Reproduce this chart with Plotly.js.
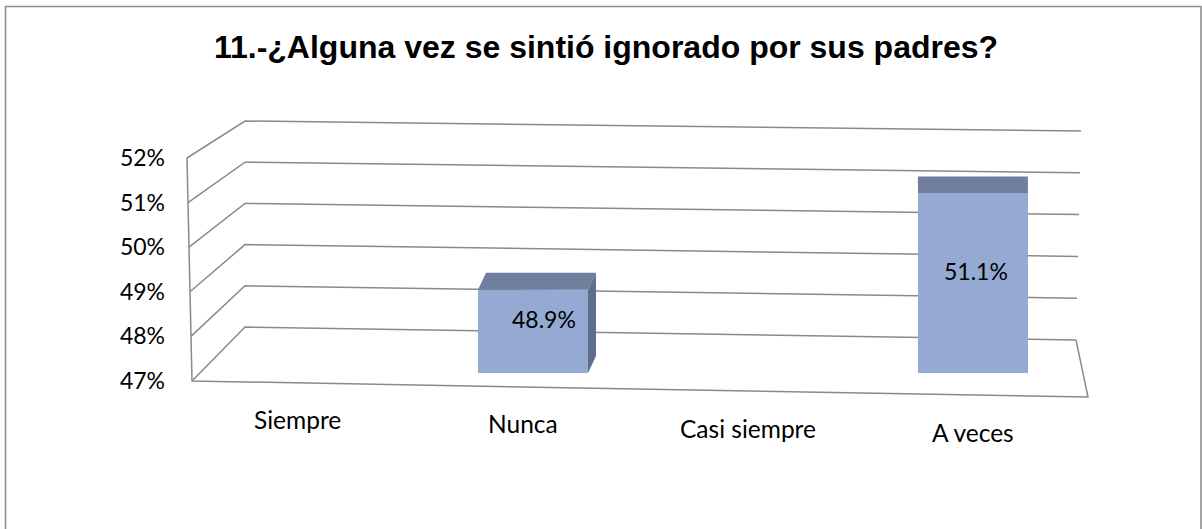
<!DOCTYPE html>
<html>
<head>
<meta charset="utf-8">
<script src="https://cdn.plot.ly/plotly-3.0.1.min.js"></script>
<style>html,body{margin:0;padding:0;background:#fff;}#chart{width:1202px;height:529px;}</style>
</head>
<body>
<div id="chart"></div>
<script>
// ---------- data ----------
const categories = ['Siempre', 'Nunca', 'Casi siempre', 'A veces'];
const values = [0, 48.9, 0, 51.1];          // percent
const tickValues = [47, 48, 49, 50, 51, 52];
const tickLabels = ['47%', '48%', '49%', '50%', '51%', '52%'];
const titleText = '11.-¿Alguna vez se sintió ignorado por sus padres?';

// ---------- layout geometry (pixels) ----------
const W = 1202, H = 529;
const px = x => x / W;
const py = y => 1 - y / H;
const YMIN = 47, YMAX = 52;

// pseudo-3D walls
const WALL = {
  frontTop: [187, 158], frontBot: [192, 381],
  backLTop: [245, 121], backLBot: [245, 327],
  backRTop: [1081, 131], backRBot: [1076, 340],
  floorFR: [1088, 397]
};
const lerp = (a, b, t) => [a[0] + (b[0] - a[0]) * t, a[1] + (b[1] - a[1]) * t];

// bar plotting area
const CAT_W = 220, FIRST_CENTER = 313;
const xDomain = [px(FIRST_CENTER - CAT_W / 2), px(FIRST_CENTER - CAT_W / 2 + CAT_W * categories.length)];
const Y47 = 373, PX_PER_UNIT = 43.8;
const yDomain = [py(Y47), py(Y47 - (YMAX - YMIN) * PX_PER_UNIT)];
const BAR_W = 0.5;
const DEPTH_PX = 17;
const VANISH = 965, PERSP = 0.0185;

const GRID = '#8a8a8a';
const FONT = 'Lato, Carlito, sans-serif';
const shapes = [];

// border
shapes.push({type: 'rect', xref: 'paper', yref: 'paper', x0: px(5.5), x1: px(1201), y0: -0.05, y1: py(6.5),
  line: {color: '#8c8c8c', width: 1.6}, layer: 'below'});

// gridlines: left wall diagonal + back wall
tickValues.forEach(v => {
  const t = (v - YMIN) / (YMAX - YMIN);
  const f = lerp(WALL.frontBot, WALL.frontTop, t);
  const bl = lerp(WALL.backLBot, WALL.backLTop, t);
  const br = lerp(WALL.backRBot, WALL.backRTop, t);
  shapes.push({type: 'path', xref: 'paper', yref: 'paper', layer: 'below',
    path: `M${px(f[0])},${py(f[1])} L${px(bl[0])},${py(bl[1])} L${px(br[0])},${py(br[1])}`,
    line: {color: GRID, width: 1.5}});
});
// left wall front edge and floor
shapes.push({type: 'path', xref: 'paper', yref: 'paper', layer: 'below',
  path: `M${px(WALL.frontTop[0])},${py(WALL.frontTop[1])} L${px(WALL.frontBot[0])},${py(WALL.frontBot[1])} L${px(WALL.floorFR[0])},${py(WALL.floorFR[1])} L${px(WALL.backRBot[0])},${py(WALL.backRBot[1])}`,
  line: {color: GRID, width: 1.5}});

// 3D faces of bars
const dy = DEPTH_PX / PX_PER_UNIT;
const annotations = [];
values.forEach((v, i) => {
  const centerPx = FIRST_CENTER + CAT_W * i;
  const dxPx = (VANISH - centerPx) * PERSP;
  const dx = dxPx / CAT_W;
  if (v > YMIN) {
    const l = i - BAR_W / 2, r = i + BAR_W / 2;
    shapes.push({type: 'path', xref: 'x', yref: 'y', layer: 'above',
      path: `M${l},${v} L${r},${v} L${r + dx},${v + dy} L${l + dx},${v + dy} Z`,
      fillcolor: '#6f7f9d', line: {width: 0}});
    if (dx > 0.005) {
      shapes.push({type: 'path', xref: 'x', yref: 'y', layer: 'above',
        path: `M${r},${v} L${r + dx},${v + dy} L${r + dx},${YMIN + dy} L${r},${YMIN} Z`,
        fillcolor: '#5f6e8c', line: {width: 0}});
    }
    annotations.push({xref: 'x', yref: 'y', x: i, y: (v + YMIN) / 2, text: v.toFixed(1) + '%',
      showarrow: false, xshift: dxPx + 3, yshift: 12,
      font: {family: FONT, size: 23, color: '#000'}});
  }
  // category label
  annotations.push({xref: 'x', yref: 'paper', x: i, y: py(419 + i * 4.6), yanchor: 'middle',
    text: categories[i], showarrow: false, xshift: (i - 3) * 5.06,
    font: {family: FONT, size: 24.5, color: '#000'}});
});

const data = [
  {type: 'bar', x: categories, y: values, width: BAR_W,
   marker: {color: '#95aad2', line: {width: 0}}, hoverinfo: 'skip', showlegend: false},
  {type: 'scatter', x: [null], y: [null], yaxis: 'y2', hoverinfo: 'skip', showlegend: false}
];

const layout = {
  width: W, height: H,
  margin: {l: 0, r: 0, t: 0, b: 0},
  paper_bgcolor: '#fff', plot_bgcolor: 'rgba(0,0,0,0)',
  title: {text: '<b>' + titleText + '</b>', x: px(606), xanchor: 'center', y: py(47), yanchor: 'middle',
    font: {family: 'Liberation Sans, Arial, sans-serif', size: 32, color: '#000'}},
  xaxis: {type: 'category', categoryarray: categories, range: [-0.5, categories.length - 0.5],
    domain: xDomain, visible: false, fixedrange: true},
  yaxis: {range: [YMIN, YMAX], domain: yDomain, visible: false, fixedrange: true},
  yaxis2: {range: [YMIN, YMAX], domain: [py(WALL.frontBot[1]), py(WALL.frontTop[1])],
    anchor: 'free', position: px(165), side: 'left',
    tickvals: tickValues, ticktext: tickLabels, ticks: '', showgrid: false, zeroline: false, showline: false,
    tickfont: {family: FONT, size: 23, color: '#000'}, fixedrange: true},
  shapes: shapes,
  annotations: annotations,
  showlegend: false
};

Plotly.newPlot('chart', data, layout, {displayModeBar: false, staticPlot: true});
</script>
</body>
</html>
